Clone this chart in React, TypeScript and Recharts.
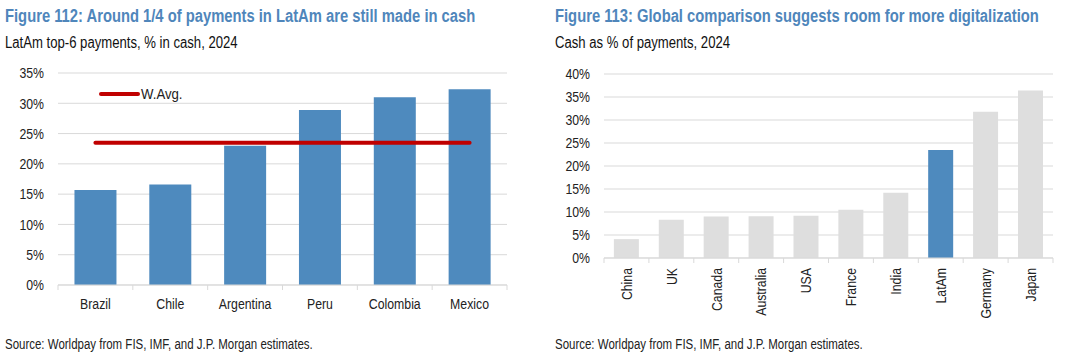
import { ComposedChart, BarChart, Bar, Line, XAxis, YAxis, CartesianGrid, Cell } from "recharts";

const latamCountries = ["Brazil", "Chile", "Argentina", "Peru", "Colombia", "Mexico"];
const latamCashShare = [15.7, 16.6, 23.0, 28.9, 31.0, 32.3];
const latamWeightedAvg = 23.5;
const leftTicks = [0, 5, 10, 15, 20, 25, 30, 35];

const globalCountries = ["China", "UK", "Canada", "Australia", "USA", "France", "India", "LatAm", "Germany", "Japan"];
const globalCashShare = [4.1, 8.3, 9.0, 9.1, 9.2, 10.5, 14.2, 23.5, 31.8, 36.4];
const rightTicks = [0, 5, 10, 15, 20, 25, 30, 35, 40];

// no Arial Narrow here, so squeeze Liberation Sans horizontally
const FONT = "'Liberation Sans', Arial, sans-serif";
const SQ = 0.82;
const BLUE = "#4E8ABE";
const GREY = "#DEDEDE";
const RED = "#C00000";
const TITLE = "#4F86BB";
const AXIS = "#D9D9D9";
const INK = "#222";

const leftData = latamCountries.map((name, i) => ({ name, cash: latamCashShare[i], avg: latamWeightedAvg }));
const rightData = globalCountries.map((name, i) => ({ name, cash: globalCashShare[i] }));

const makeXTick = (band: number, rotated: boolean) => (props: any) => {
  const { x, y, payload, index, visibleTicksCount } = props;
  const last = index === visibleTicksCount - 1;
  return (
    <g>
      <line x1={x - band / 2} x2={x - band / 2} y1={y} y2={y + 5} stroke={AXIS} />
      {last && <line x1={x + band / 2} x2={x + band / 2} y1={y} y2={y + 5} stroke={AXIS} />}
      {rotated ? (
        <text transform={`translate(${x},${y + 10}) rotate(-90) scale(${SQ},1)`} dy="0.35em" textAnchor="end" fill={INK} fontSize={15} fontFamily={FONT}>
          {payload.value}
        </text>
      ) : (
        <text transform={`translate(${x},${y + 19}) scale(${SQ},1)`} dy="0.35em" textAnchor="middle" fill={INK} fontSize={15} fontFamily={FONT}>
          {payload.value}
        </text>
      )}
    </g>
  );
};

const YTick = (props: any) => {
  const { x, y, payload } = props;
  return (
    <text transform={`translate(${x},${y}) scale(${SQ},1)`} dy="0.35em" textAnchor="end" fill={INK} fontSize={15} fontFamily={FONT}>
      {`${payload.value}%`}
    </text>
  );
};

const squeeze: React.CSSProperties = {
  position: "absolute", fontFamily: FONT, whiteSpace: "nowrap", transform: `scaleX(${SQ})`, transformOrigin: "0 0",
};
const titleStyle: React.CSSProperties = { ...squeeze, fontWeight: "bold", fontSize: 18, color: TITLE };
const subStyle: React.CSSProperties = { ...squeeze, fontSize: 16, color: "#111" };
const srcStyle: React.CSSProperties = { ...squeeze, fontSize: 14, color: INK };

export default function App() {
  return (
    <div style={{ position: "absolute", left: 0, top: 0, width: 1083, height: 359, background: "#fff", overflow: "hidden" }}>
      <div style={{ ...titleStyle, left: 5, top: 6 }}>Figure 112: Around 1/4 of payments in LatAm are still made in cash</div>
      <div style={{ ...subStyle, left: 5, top: 34 }}>LatAm top-6 payments, % in cash, 2024</div>
      <div style={{ ...srcStyle, left: 5, top: 336 }}>Source: Worldpay from FIS, IMF, and J.P. Morgan estimates.</div>

      <div style={{ ...titleStyle, left: 555, top: 6 }}>Figure 113: Global comparison suggests room for more digitalization</div>
      <div style={{ ...subStyle, left: 555, top: 34 }}>Cash as % of payments, 2024</div>
      <div style={{ ...srcStyle, left: 555, top: 336 }}>Source: Worldpay from FIS, IMF, and J.P. Morgan estimates.</div>

      <div style={{ position: "absolute", left: 0, top: 0 }}>
        <ComposedChart width={540} height={359} data={leftData} margin={{ top: 73, right: 33, left: 0, bottom: 44 }} barCategoryGap="22%">
          <CartesianGrid vertical={false} stroke={AXIS} />
          <XAxis dataKey="name" height={30} stroke={AXIS} tickLine={false} tickSize={0} tickMargin={0} tick={makeXTick(449 / 6, false)} interval={0} />
          <YAxis width={58} domain={[0, 35]} ticks={leftTicks} axisLine={false} tickLine={false} tickMargin={8} tick={<YTick />} />
          <Bar dataKey="cash" fill={BLUE} isAnimationActive={false} />
          <Line dataKey="avg" stroke={RED} strokeWidth={4} strokeLinecap="round" dot={false} isAnimationActive={false} />
        </ComposedChart>
      </div>

      {/* legend for the weighted-average line */}
      <div style={{ position: "absolute", left: 98, top: 86 }}>
        <svg width={110} height={16}>
          <line x1={3} x2={40} y1={8} y2={8} stroke={RED} strokeWidth={4} strokeLinecap="round" />
          <text transform={`translate(43,8) scale(0.88,1)`} dy="0.35em" fontSize={15} fontFamily={FONT} fill={INK}>W.Avg.</text>
        </svg>
      </div>

      <div style={{ position: "absolute", left: 540, top: 0 }}>
        <BarChart width={543} height={359} data={rightData} margin={{ top: 74, right: 30, left: 0, bottom: 41 }} barCategoryGap="22%">
          <CartesianGrid vertical={false} stroke={AXIS} />
          <XAxis dataKey="name" height={60} stroke={AXIS} tickLine={false} tickSize={0} tickMargin={0} tick={makeXTick(449 / 10, true)} interval={0} />
          <YAxis width={64} domain={[0, 40]} ticks={rightTicks} axisLine={false} tickLine={false} tickMargin={8} tick={<YTick />} />
          <Bar dataKey="cash" isAnimationActive={false}>
            {rightData.map((d) => (
              <Cell key={d.name} fill={d.name === "LatAm" ? BLUE : GREY} />
            ))}
          </Bar>
        </BarChart>
      </div>
    </div>
  );
}
